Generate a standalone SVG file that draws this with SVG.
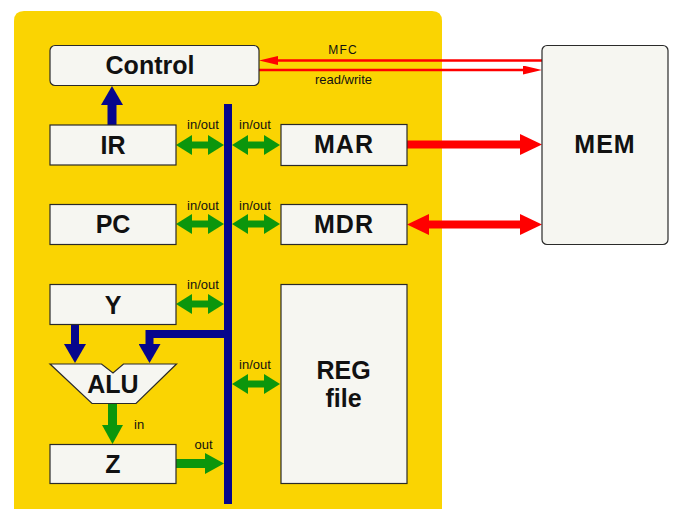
<svg xmlns="http://www.w3.org/2000/svg" width="674" height="509" viewBox="0 0 674 509">
<style>
.box{fill:#F6F6F1;stroke:#2a2a2a;stroke-width:1.2}
.lbl{font-family:"Liberation Sans",Arial,sans-serif;font-weight:bold;font-size:25px;fill:#111;text-anchor:middle}
.sm{font-family:"Liberation Sans",Arial,sans-serif;font-size:13px;fill:#111;text-anchor:middle}
.g{stroke:#0C960C;stroke-width:7;fill:none}
.b{stroke:#06068C;stroke-width:8;fill:none}
.r{stroke:#FF0000;fill:none}
</style>
<defs>
<marker id="gh" viewBox="0 0 16 20" refX="0" refY="10" markerWidth="16" markerHeight="20" markerUnits="userSpaceOnUse" orient="auto-start-reverse"><path d="M0,0 L16,10 L0,20 Z" fill="#0C960C"/></marker>
<marker id="gh2" viewBox="0 0 19 21" refX="0" refY="10.5" markerWidth="19" markerHeight="21" markerUnits="userSpaceOnUse" orient="auto"><path d="M0,0 L19,10.5 L0,21 Z" fill="#0C960C"/></marker>
<marker id="bh" viewBox="0 0 19 22" refX="0" refY="11" markerWidth="19" markerHeight="22" markerUnits="userSpaceOnUse" orient="auto"><path d="M0,0 L19,11 L0,22 Z" fill="#06068C"/></marker>
<marker id="rs" viewBox="0 0 19 9" refX="0" refY="4.5" markerWidth="19" markerHeight="9" markerUnits="userSpaceOnUse" orient="auto"><path d="M0,0 L19,4.5 L0,9 Z" fill="#FF0000"/></marker>
<marker id="rb" viewBox="0 0 22 21" refX="0" refY="10.5" markerWidth="22" markerHeight="21" markerUnits="userSpaceOnUse" orient="auto-start-reverse"><path d="M0,0 L22,10.5 L0,21 Z" fill="#FF0000"/></marker>
</defs>
<rect width="674" height="509" fill="#FFFFFF"/>
<path d="M14,509 L14,21 Q14,11 24,11 L432,11 Q442,11 442,21 L442,509 Z" fill="#FAD402"/>

<g id="connectors">
<line class="b" x1="228" y1="104" x2="228" y2="504"/>
<line class="b" x1="112" y1="125" x2="112" y2="105" style="stroke-width:9" marker-end="url(#bh)"/>
<line class="g" x1="192" y1="145" x2="208" y2="145" marker-start="url(#gh)" marker-end="url(#gh)"/>
<line class="g" x1="248" y1="145" x2="264" y2="145" marker-start="url(#gh)" marker-end="url(#gh)"/>
<line class="g" x1="192" y1="224" x2="208" y2="224" marker-start="url(#gh)" marker-end="url(#gh)"/>
<line class="g" x1="248" y1="224" x2="264" y2="224" marker-start="url(#gh)" marker-end="url(#gh)"/>
<line class="g" x1="192" y1="304" x2="208" y2="304" marker-start="url(#gh)" marker-end="url(#gh)"/>
<line class="g" x1="248" y1="384" x2="264" y2="384" marker-start="url(#gh)" marker-end="url(#gh)"/>
<line class="b" x1="75" y1="324" x2="75" y2="344" marker-end="url(#bh)"/>
<polyline class="b" points="228,334 149.5,334 149.5,344" marker-end="url(#bh)"/>
<line class="g" x1="112.5" y1="404" x2="112.5" y2="425" style="stroke-width:9" marker-end="url(#gh2)"/>
<line class="g" x1="176" y1="463.5" x2="205" y2="463.5" style="stroke-width:9" marker-end="url(#gh2)"/>
<line class="r" x1="542" y1="60.5" x2="278" y2="60.5" style="stroke-width:2.5" marker-end="url(#rs)"/>
<line class="r" x1="259" y1="70" x2="523" y2="70" style="stroke-width:2.5" marker-end="url(#rs)"/>
<line class="r" x1="407" y1="144.5" x2="520" y2="144.5" style="stroke-width:8" marker-end="url(#rb)"/>
<line class="r" x1="429" y1="224.5" x2="520" y2="224.5" style="stroke-width:8" marker-start="url(#rb)" marker-end="url(#rb)"/>
<text class="sm" x="203" y="129">in/out</text>
<text class="sm" x="255" y="129">in/out</text>
<text class="sm" x="203" y="209.5">in/out</text>
<text class="sm" x="255" y="209.5">in/out</text>
<text class="sm" x="203" y="288.5">in/out</text>
<text class="sm" x="255" y="368.5">in/out</text>
<text class="sm" x="134" y="428.5" style="text-anchor:start">in</text>
<text class="sm" x="194.5" y="448.5" style="text-anchor:start">out</text>
<text class="sm" x="343" y="54" style="font-size:12px;letter-spacing:1.2px">MFC</text>
<text class="sm" x="343.5" y="84.3">read/write</text>
</g>

<g id="control"><rect class="box" x="50" y="45.5" width="209" height="40" rx="5"/><text class="lbl" x="150" y="74">Control</text></g>
<g id="ir"><rect class="box" x="50" y="125" width="126" height="40"/><text class="lbl" x="113" y="153.5">IR</text></g>
<g id="pc"><rect class="box" x="50" y="204.5" width="126" height="40"/><text class="lbl" x="113" y="232.5">PC</text></g>
<g id="mar"><rect class="box" x="281" y="124.5" width="126" height="41"/><text class="lbl" x="344" y="153.3" style="letter-spacing:1px">MAR</text></g>
<g id="mdr"><rect class="box" x="281" y="204.5" width="126" height="40"/><text class="lbl" x="344" y="233.3" style="letter-spacing:1px">MDR</text></g>
<g id="mem"><rect class="box" x="542" y="45.5" width="126" height="199" rx="5"/><text class="lbl" x="605" y="153.3" style="letter-spacing:1px">MEM</text></g>
<g id="y"><rect class="box" x="50" y="284.5" width="126" height="40"/><text class="lbl" x="113" y="314">Y</text></g>
<g id="alu"><path class="box" d="M50,364 L101.5,364 L113,373 L123.5,364 L176.5,364 L136,403.5 L92,403.5 Z"/><text class="lbl" x="113" y="393.3">ALU</text></g>
<g id="z"><rect class="box" x="50" y="444.5" width="126" height="39"/><text class="lbl" x="113" y="473.3">Z</text></g>
<g id="reg"><rect class="box" x="281" y="284.5" width="126" height="199"/><text class="lbl" x="343.5" y="379.3">REG</text><text class="lbl" x="343.5" y="407.3">file</text></g>
</svg>
